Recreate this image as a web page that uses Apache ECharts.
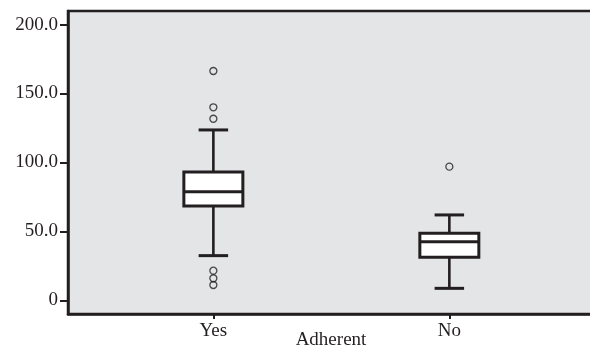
<!DOCTYPE html>
<html>
<head>
<meta charset="utf-8">
<script src="https://cdn.jsdelivr.net/npm/echarts@6/dist/echarts.min.js"></script>
<style>
  html, body { margin: 0; padding: 0; background: #ffffff; }
  #chart { width: 590px; height: 351px; }
</style>
</head>
<body>
<div id="chart"></div>
<script>
// Group labels and their positions on the x scale
const categories = ['Yes', 'No'];
const categoryPos = [1, 2];

// Five-number summaries: [low whisker, Q1, median, Q3, high whisker]
const yesStats = [32.5, 68.5, 78.8, 93.1, 123.6];
const noStats = [8.8, 31.3, 42.6, 48.7, 62.0];

// Outlying observations per group
const yesOutliers = [166.3, 140.0, 131.7, 21.6, 16.1, 11.2];
const noOutliers = [97.0];

// Value-axis ticks
const yTicks = [0, 50, 100, 150, 200];

const ink = '#231f20';
const font = '"Liberation Serif", "DejaVu Serif", serif';

const boxData = [
  [categoryPos[0]].concat(yesStats),
  [categoryPos[1]].concat(noStats)
];
const outlierData = yesOutliers.map(v => [categoryPos[0], v])
  .concat(noOutliers.map(v => [categoryPos[1], v]));

function renderBox(params, api) {
  const x = api.value(0);
  const low = api.coord([x, api.value(1)]);
  const q1 = api.coord([x, api.value(2)]);
  const med = api.coord([x, api.value(3)]);
  const q3 = api.coord([x, api.value(4)]);
  const high = api.coord([x, api.value(5)]);
  const unit = api.size([1, 0])[0];
  const half = unit * 0.125;
  const cap = unit * 0.0625;
  const cx = q1[0];
  const lineStyle = { stroke: ink, lineWidth: 2.6, fill: null };
  return {
    type: 'group',
    children: [
      { type: 'line', shape: { x1: cx, y1: q3[1], x2: cx, y2: high[1] }, style: lineStyle },
      { type: 'line', shape: { x1: cx, y1: q1[1], x2: cx, y2: low[1] }, style: lineStyle },
      { type: 'line', shape: { x1: cx - cap, y1: high[1], x2: cx + cap, y2: high[1] }, style: { stroke: ink, lineWidth: 3 } },
      { type: 'line', shape: { x1: cx - cap, y1: low[1], x2: cx + cap, y2: low[1] }, style: { stroke: ink, lineWidth: 3 } },
      { type: 'rect', shape: { x: cx - half, y: q3[1], width: half * 2, height: q1[1] - q3[1] },
        style: { fill: '#ffffff', stroke: ink, lineWidth: 3 } },
      { type: 'line', shape: { x1: cx - half, y1: med[1], x2: cx + half, y2: med[1] }, style: { stroke: ink, lineWidth: 3 } }
    ]
  };
}

const chart = echarts.init(document.getElementById('chart'), null, { renderer: 'canvas' });
chart.setOption({
  animation: false,
  backgroundColor: '#ffffff',
  grid: {
    left: 68, top: 11, bottom: 37, right: -4,
    containLabel: false,
    outerBoundsMode: 'none',
    show: true,
    backgroundColor: '#e4e5e7',
    borderColor: ink,
    borderWidth: 2.5
  },
  xAxis: {
    type: 'value',
    min: 0.384,
    max: 2.613,
    splitLine: { show: false },
    axisLine: { show: true, onZero: false, lineStyle: { color: ink, width: 2.5 } },
    axisTick: { show: true, inside: false, length: 5, customValues: categoryPos, lineStyle: { color: ink, width: 2 } },
    axisLabel: {
      customValues: categoryPos,
      formatter: v => categories[categoryPos.indexOf(Math.round(v))] || '',
      color: ink, fontFamily: font, fontSize: 19, margin: 8
    },
    name: 'Adherent',
    nameLocation: 'middle',
    nameGap: 17,
    nameMoveOverlap: false,
    nameTextStyle: { color: ink, fontFamily: font, fontSize: 19 }
  },
  yAxis: {
    type: 'value',
    min: -9.8,
    max: 209.8,
    splitLine: { show: false },
    axisLine: { show: true, onZero: false, lineStyle: { color: ink, width: 2.5 } },
    axisTick: { show: true, inside: false, length: 8, customValues: yTicks, lineStyle: { color: ink, width: 2 } },
    axisLabel: {
      customValues: yTicks,
      formatter: v => (v === 0 ? '0' : v.toFixed(1)),
      color: ink, fontFamily: font, fontSize: 19, margin: 10
    }
  },
  series: [
    {
      type: 'custom',
      renderItem: renderBox,
      encode: { x: 0, y: [1, 2, 3, 4, 5] },
      data: boxData,
      z: 2
    },
    {
      type: 'scatter',
      data: outlierData,
      symbol: 'circle',
      symbolSize: 7,
      itemStyle: { color: 'rgba(0,0,0,0)', borderColor: ink, borderWidth: 1.3 },
      z: 3
    }
  ]
});
</script>
</body>
</html>
